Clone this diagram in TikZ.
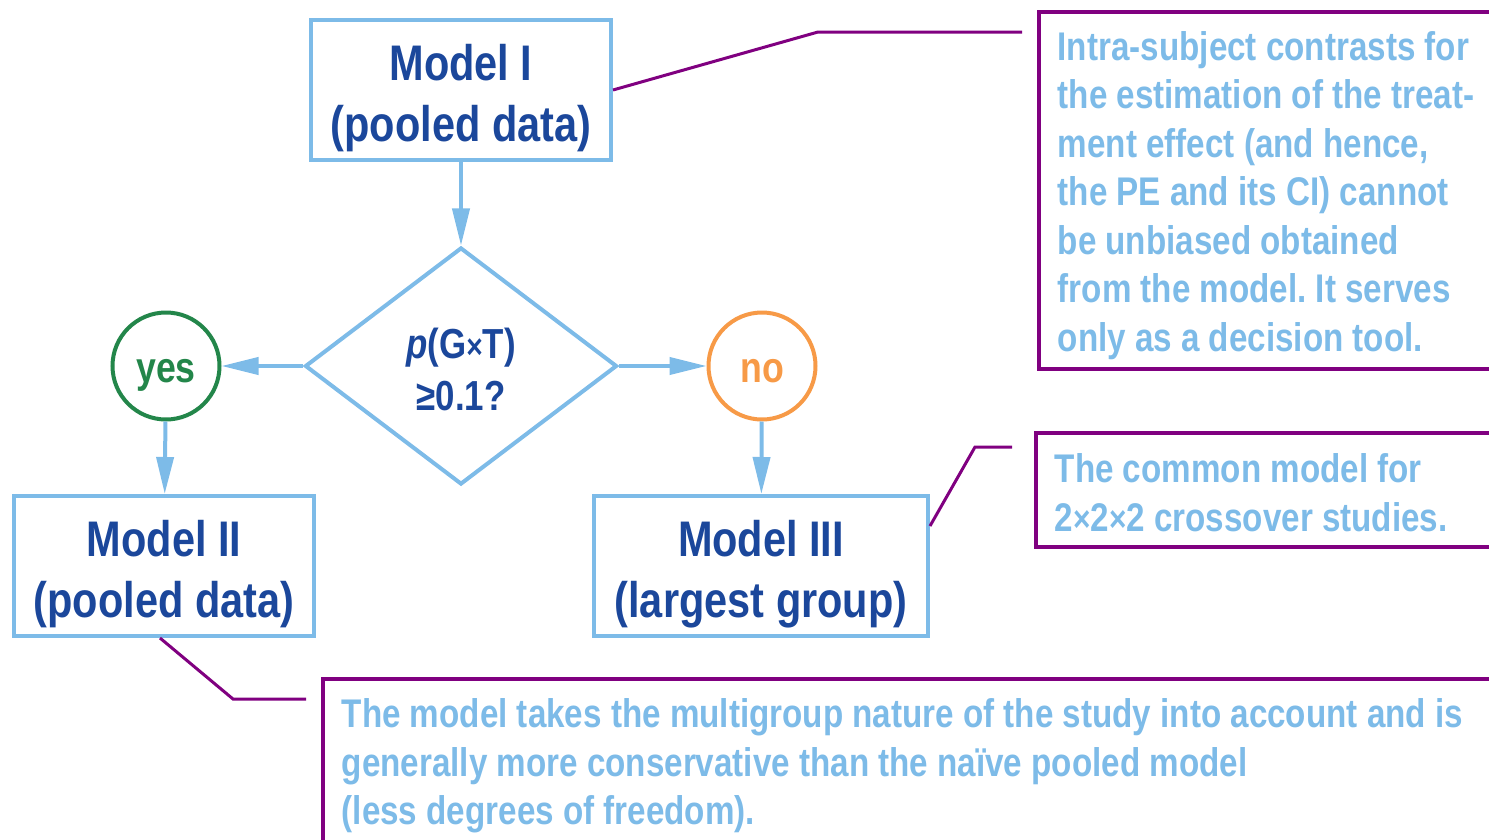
\documentclass[tikz,border=0pt]{standalone}
\usepackage{fontspec}
\setmainfont{Liberation Sans}[FakeStretch=0.83]
\usetikzlibrary{shapes.geometric,arrows.meta}
\definecolor{boxblue}{HTML}{7DBBE8}
\definecolor{textblue}{HTML}{1B479B}
\definecolor{notepurple}{HTML}{800080}
\definecolor{yesgreen}{HTML}{23864A}
\definecolor{noorange}{HTML}{F79A47}
\newcommand{\bigstrut}{\rule{0pt}{52pt}}
\newcommand{\crosssign}[1]{{\fontsize{#1}{#1}\selectfont ×}}
\newcommand{\narrowfont}[2]{\bfseries\fontsize{#1}{#2}\selectfont\frenchspacing\spaceskip=0.23em\relax}

\begin{document}
\begin{tikzpicture}[x=1pt,y=-1pt]
		\useasboundingbox (0,0) rectangle (1489,839);
		\clip (0,0) rectangle (1489,839);
		\tikzstyle{model}=[draw=boxblue,line width=4pt,minimum height=140pt,align=flush center,text=textblue,font=\narrowfont{50}{61}]
		\tikzstyle{answer}=[circle,line width=4pt,minimum size=107pt,inner sep=0pt,text height=32pt,text depth=0pt,font=\narrowfont{43}{50}]
		\tikzstyle{note}=[draw=notepurple,line width=3.5pt,anchor=north west,align=flush left,inner xsep=19pt,text=boxblue,font=\narrowfont{40}{48.5}]
		\tikzstyle{flow}=[draw=boxblue,line width=4pt,-{Triangle[length=37pt,width=17pt]}]
		\tikzstyle{callout}=[draw=notepurple,line width=3pt]
		\node[model,minimum width=300pt] (m1) at (461,90) {\bigstrut Model I\\(pooled data)};
		\node[diamond,draw=boxblue,line width=4pt,aspect=1.31,minimum width=312pt,minimum height=237pt,inner sep=0pt,align=flush center,text=textblue,font=\narrowfont{42}{52}] (q) at (461,366) {\rule{0pt}{38pt}\textit{p}(G\crosssign{34}T)\\≥0.1?};
		\node[answer,draw=yesgreen,text=yesgreen] (yes) at (166,366) {yes};
		\node[answer,draw=noorange,text=noorange] (no) at (762,366) {no};
		\node[model,minimum width=300pt] (m2) at (164,566) {\bigstrut Model II\\(pooled data)};
		\node[model,minimum width=334pt] (m3) at (761,566) {\bigstrut Model III\\(largest group)};
		\node[note,text width=480pt,minimum height=357pt] (n1) at (1037,10) {\rule{0pt}{39pt}Intra-subject contrasts for\\the estimation of the treat-\\ment effect (and hence,\\the PE and its CI) cannot\\be unbiased obtained\\from the model. It serves\\only as a decision tool.};
		\node[note,text width=480pt,minimum height=114pt] (n2) at (1034,431) {\rule{0pt}{35pt}The common model for\\2\crosssign{36}2\crosssign{36}2 crossover studies.};
		\node[note,text width=1200pt,inner ysep=20pt] (n3) at (321,677) {The model takes the multigroup nature of the study into account and is\\generally more conservative than the naïve pooled model\\(less degrees of freedom).};
		\draw[flow] (m1) -- (q);
		\draw[flow] (q.west) -- (yes);
		\draw[flow] (q.east) -- (no);
		\draw[flow] (yes) -- (m2);
		\draw[flow] (no) -- (m3);
		\coordinate (c1a) at (818,32);
		\coordinate (c1b) at (1022,32);
		\coordinate (c2a) at (975,447);
		\coordinate (c2b) at (1012,447);
		\coordinate (c3a) at (233,699);
		\coordinate (c3b) at (306,699);
		\draw[callout] (m1.east) -- (c1a) -- (c1b);
		\draw[callout] ([yshift=40pt]m3.east) -- (c2a) -- (c2b);
		\draw[callout] ([xshift=-4pt]m2.south) -- (c3a) -- (c3b);
	\end{tikzpicture}
\end{document}
